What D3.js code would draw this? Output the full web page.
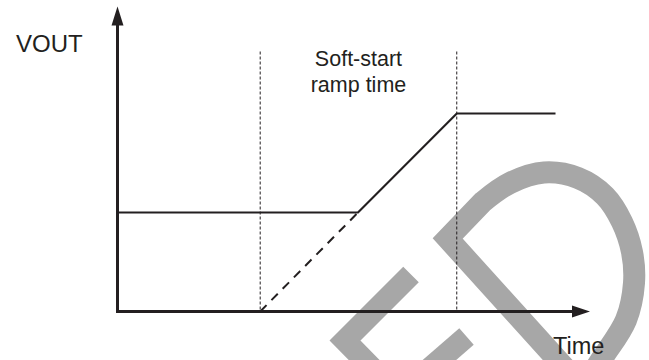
<!DOCTYPE html>
<html><head><meta charset="utf-8">
<script src="https://cdn.jsdelivr.net/npm/d3@7"></script>
<style>
html,body{margin:0;padding:0;background:#fff;}
svg{display:block;}
text{font-family:"Liberation Sans",Arial,Helvetica,sans-serif;fill:#231f20;}
</style></head><body>
<svg id="chart" width="649" height="360"></svg>
<script>
// ---- data (time in arbitrary units, VOUT normalised to final value) ----
const timeDomain   = [0, 100];
const voutDomain   = [0, 1];
const axisMax      = [100, 1.54];          // arrow tips: time, vout
const markerTimes  = [30.2, 71.8];         // soft-start window boundaries
const solidTimes   = [0, 50.9, 71.8, 92.7];
const solidVout    = [0.5, 0.5, 1, 1];
const dashTimes    = [30.2, 50.9];
const dashVout     = [0, 0.5];
const axisLabels   = ["VOUT", "Time"];
const windowLabel  = ["Soft-start", "ramp time"];

const ink = "#231f20";
const svg = d3.select("#chart");
const x = d3.scaleLinear().domain(timeDomain).range([117.5, 590]);
const y = d3.scaleLinear().domain(voutDomain).range([311.5, 113.5]);

// ---- background watermark ----
const wm = svg.append("g").attr("fill","none").attr("stroke","#a7a7a7")
  .attr("stroke-width",22).attr("stroke-linejoin","miter").attr("stroke-miterlimit",10);
// "E"
wm.append("path").attr("d","M425,422 L345,340.5 L411,274.5");
wm.append("path").attr("d","M398,396 L466.5,336.5");
// "D"
const bowl = d3.line().curve(d3.curveCatmullRom.alpha(0.5))([
  [483,201.7],[510,183],[544,172.5],[578,178],[605,196],[622,222],[632,252],
  [634,283],[626,320],[601,360],[580,392]
]);
wm.append("path").attr("d","M592,398 L447.7,238.5 " + bowl.replace(/^M/,"L"));

// ---- guide lines (soft-start window) ----
svg.append("g").selectAll("line").data(markerTimes).join("line")
  .attr("x1",d=>x(d)).attr("x2",d=>x(d))
  .attr("y1",51.5).attr("y2",y(0))
  .attr("stroke",ink).attr("stroke-width",1).attr("stroke-dasharray","3,2");

// ---- axes ----
const [tMax, vMax] = axisMax;
svg.append("path")
  .attr("d", d3.line()([[x(0), y(vMax)+18],[x(0), y(0)],[x(tMax)-17, y(0)]]))
  .attr("fill","none").attr("stroke",ink).attr("stroke-width",3)
  .attr("stroke-linejoin","miter").attr("stroke-linecap","butt");
// arrowheads
svg.append("path")
  .attr("d", `M${x(tMax)},${y(0)} L${x(tMax)-18},${y(0)-6} L${x(tMax)-18},${y(0)+6} Z`)
  .attr("fill",ink);
svg.append("path")
  .attr("d", `M${x(0)},${y(vMax)} L${x(0)-6},${y(vMax)+19} L${x(0)+6},${y(vMax)+19} Z`)
  .attr("fill",ink);

// ---- VOUT trace ----
const line = d3.line().x(d=>x(d[0])).y(d=>y(d[1]));
svg.append("path")
  .attr("d", line(solidTimes.map((t,i)=>[t, solidVout[i]])))
  .attr("fill","none").attr("stroke",ink).attr("stroke-width",2.2)
  .attr("stroke-linejoin","miter");
svg.append("path")
  .attr("d", line(dashTimes.map((t,i)=>[t, dashVout[i]])))
  .attr("fill","none").attr("stroke",ink).attr("stroke-width",2)
  .attr("stroke-dasharray","9,7");

// ---- text ----
svg.append("text").attr("x",16).attr("y",52).attr("font-size",24).text(axisLabels[0]);
svg.append("text").attr("x",553).attr("y",354).attr("font-size",23.5).text(axisLabels[1]);
const mid = (x(markerTimes[0]) + x(markerTimes[1]))/2;
svg.append("g").selectAll("text").data(windowLabel).join("text")
  .attr("x",mid).attr("y",(d,i)=>66 + i*25.5).attr("text-anchor","middle")
  .attr("font-size",21.5).text(d=>d);
</script>
</body></html>
